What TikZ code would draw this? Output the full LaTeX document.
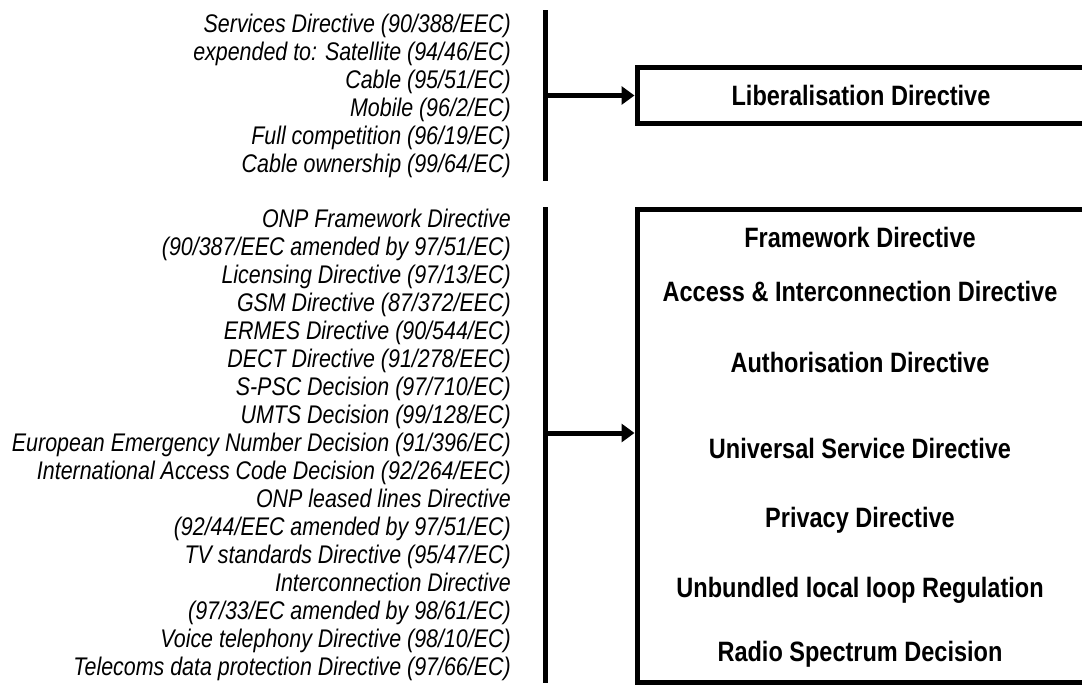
\documentclass[tikz,border=0pt]{standalone}
\usepackage{fontspec}
\setmainfont{Liberation Sans}
\newfontfamily\estrecha{Liberation Sans}[FakeStretch=0.84]
\usetikzlibrary{arrows.meta}
\tikzset{
  lista/.style={font=\estrecha\itshape\fontsize{25.5}{28}\selectfont, align=right, anchor=east, inner sep=0pt},
  titulo/.style={font=\estrecha\bfseries\fontsize{28}{30}\selectfont, inner sep=0pt},
  caja/.style={draw, line width=5pt, inner sep=0pt},
  barra/.style={line width=5pt},
  flecha/.style={line width=5pt, -{Triangle[length=13pt,width=18pt]}}
}
\begin{document}
\begin{tikzpicture}[x=1pt,y=-1pt]
            \useasboundingbox (0,0) rectangle (1082,688); % Marco de la figura
            \clip (0,0) rectangle (1082,688); % Las cajas se cortan a la derecha

            % Directivas de liberalizacion
            \node[lista] (srvTxt) at (511,95.5) {Services Directive (90/388/EEC)\\
              expended to: Satellite (94/46/EC)\\
              Cable (95/51/EC)\\
              Mobile (96/2/EC)\\
              Full competition (96/19/EC)\\
              Cable ownership (99/64/EC)}; % Texto de la parte superior
            \coordinate (barA1) at (545,10); % Extremo superior de la barra
            \coordinate (barA2) at (545,181); % Extremo inferior de la barra
            \coordinate (salA) at (545,95.5); % Salida de la flecha
            \draw[barra] (barA1) -- (barA2); % Barra vertical
            \node[caja, minimum width=453pt, minimum height=56pt] (libCaja) at (863.5,95.5) {}; % Caja superior
            \node[titulo] (libTxt) at (861,95.5) {Liberalisation Directive}; % Titulo de la caja superior
            \draw[flecha] (salA) -- (libCaja.west); % Flecha superior

            % Directivas ONP y demas
            \node[lista] (onpTxt) at (511,445) {ONP Framework Directive\\
              (90/387/EEC amended by 97/51/EC)\\
              Licensing Directive (97/13/EC)\\
              GSM Directive (87/372/EEC)\\
              ERMES Directive (90/544/EC)\\
              DECT Directive (91/278/EEC)\\
              S-PSC Decision (97/710/EC)\\
              UMTS Decision (99/128/EC)\\
              European Emergency Number Decision (91/396/EC)\\
              International Access Code Decision (92/264/EEC)\\
              ONP leased lines Directive\\
              (92/44/EEC amended by 97/51/EC)\\
              TV standards Directive (95/47/EC)\\
              Interconnection Directive\\
              (97/33/EC amended by 98/61/EC)\\
              Voice telephony Directive (98/10/EC)\\
              Telecoms data protection Directive (97/66/EC)}; % Texto de la parte inferior
            \coordinate (barB1) at (545,207); % Extremo superior de la barra
            \coordinate (barB2) at (545,683); % Extremo inferior de la barra
            \coordinate (salB) at (545,433); % Salida de la flecha
            \draw[barra] (barB1) -- (barB2); % Barra vertical
            \node[caja, minimum width=453pt, minimum height=473pt] (nueCaja) at (863.5,446) {}; % Caja inferior
            \draw[flecha] (salB) -- (salB -| nueCaja.west); % Flecha inferior

            % Nuevo marco dentro de la caja
            \node[titulo] (marco) at (860,237) {Framework Directive};
            \node[titulo] (acceso) at (860,291) {Access \& Interconnection Directive};
            \node[titulo] (autor) at (860,362) {Authorisation Directive};
            \node[titulo] (univ) at (860,448) {Universal Service Directive};
            \node[titulo] (priv) at (860,520) {Privacy Directive};
            \node[titulo] (bucle) at (860,590) {Unbundled local loop Regulation};
            \node[titulo] (radio) at (860,654) {Radio Spectrum Decision};
        \end{tikzpicture}
\end{document}
